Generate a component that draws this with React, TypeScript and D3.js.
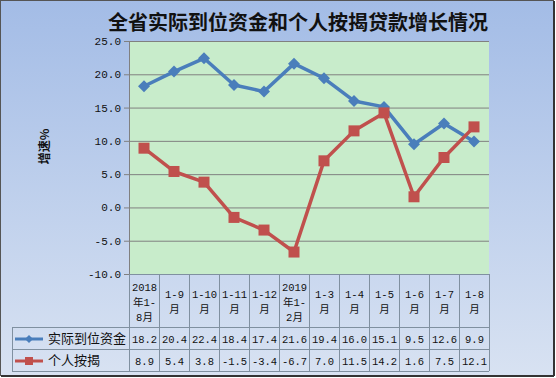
import React from "react";
import * as d3 from "d3";

const categories: string[][] = [
  ["2018", "年1-", "8月"],
  ["1-9", "月"],
  ["1-10", "月"],
  ["1-11", "月"],
  ["1-12", "月"],
  ["2019", "年1-", "2月"],
  ["1-3", "月"],
  ["1-4", "月"],
  ["1-5", "月"],
  ["1-6", "月"],
  ["1-7", "月"],
  ["1-8", "月"],
];
const fundValues = [18.2, 20.4, 22.4, 18.4, 17.4, 21.6, 19.4, 16.0, 15.1, 9.5, 12.6, 9.9];
const mortgageValues = [8.9, 5.4, 3.8, -1.5, -3.4, -6.7, 7.0, 11.5, 14.2, 1.6, 7.5, 12.1];
const yTicks = [-10, -5, 0, 5, 10, 15, 20, 25];
const seriesNames = ["实际到位资金", "个人按揭"];

const W = 556, H = 378;
const PL = 129, PR = 489, PT = 41, PB = 274;
const BLUE = "#4a7ebb", RED = "#c0504d";
const MONO = "'Liberation Mono', 'Noto Sans CJK SC', monospace";
const CJK = "'Noto Sans CJK SC', sans-serif";

export default function App() {
  const x = d3.scaleBand<number>().domain(d3.range(categories.length)).range([PL, PR]);
  const y = d3.scaleLinear().domain([-10, 25]).range([PB, PT]);
  const cx = (i: number) => (x(i) as number) + x.bandwidth() / 2;
  const line = d3.line<number>().x((_, i) => cx(i)).y((v) => y(v));
  const rowTop = [PB, 327, 349, 371];
  const series = [
    { name: seriesNames[0], values: fundValues, color: BLUE, shape: "diamond" },
    { name: seriesNames[1], values: mortgageValues, color: RED, shape: "square" },
  ];
  const marker = (shape: string, px: number, py: number, color: string, s: number, key: any) =>
    shape === "diamond" ? (
      <path key={key} d={`M${px},${py - s}L${px + s},${py}L${px},${py + s}L${px - s},${py}Z`} fill={color} />
    ) : (
      <rect key={key} x={px - s} y={py - s} width={2 * s} height={2 * s} fill={color} />
    );
  return (
    <svg width={W} height={H} style={{ position: "absolute", left: 0, top: 0 }}>
      <defs>
        <linearGradient id="bg" x1="0" y1="0" x2="0" y2="1">
          <stop offset="0" stopColor="#a3bce6" />
          <stop offset="1" stopColor="#d8e2f2" />
        </linearGradient>
      </defs>
      <rect x={0.5} y={0.5} width={W - 3} height={H - 3} fill="url(#bg)" stroke="#555" strokeWidth={1} />
      <line x1={1} y1={H - 2} x2={W - 2} y2={H - 2} stroke="#333" strokeWidth={2} />
      <line x1={W - 2} y1={1} x2={W - 2} y2={H - 2} stroke="#333" strokeWidth={2} />
      <text x={298} y={30} textAnchor="middle" fontFamily={CJK} fontWeight="bold" fontSize={20} fill="#111">
        全省实际到位资金和个人按揭贷款增长情况
      </text>
      <rect x={PL} y={PT} width={PR - PL} height={PB - PT} fill="#c8eccb" />
      {yTicks.map((t) => (
        <g key={t}>
          <line x1={PL} x2={PR} y1={y(t) + 0.5} y2={y(t) + 0.5} stroke="#808080" strokeWidth={1} />
          <line x1={PL - 5} x2={PL} y1={y(t) + 0.5} y2={y(t) + 0.5} stroke="#808080" strokeWidth={1} />
          <text x={121} y={y(t) + 4} textAnchor="end" fontFamily={MONO} fontSize={11} fill="#111">
            {t.toFixed(1)}
          </text>
        </g>
      ))}
      <line x1={PL + 0.5} x2={PL + 0.5} y1={PT} y2={PB} stroke="#808080" />
      <text transform={`translate(49,${(PT + PB) / 2 - 11}) rotate(-90)`} textAnchor="middle" fontFamily={CJK} fontWeight="bold" fontSize={12} fill="#111">
        增速%
      </text>
      {series.map((s) => (
        <g key={s.name}>
          <path d={line(s.values) || ""} fill="none" stroke={s.color} strokeWidth={3.5} strokeLinejoin="round" />
          {s.values.map((v, i) => marker(s.shape, cx(i), y(v), s.color, s.shape === "diamond" ? 6 : 5.5, i))}
        </g>
      ))}
      {/* table */}
      <g stroke="#8090a0" strokeWidth={1} fill="none">
        <line x1={PL} x2={PR} y1={rowTop[0] + 0.5} y2={rowTop[0] + 0.5} />
        <line x1={12} x2={PR} y1={rowTop[1] + 0.5} y2={rowTop[1] + 0.5} />
        <line x1={12} x2={PR} y1={rowTop[2] + 0.5} y2={rowTop[2] + 0.5} />
        <line x1={12} x2={PR} y1={rowTop[3] + 0.5} y2={rowTop[3] + 0.5} />
        <line x1={12.5} x2={12.5} y1={rowTop[1]} y2={rowTop[3]} />
        {d3.range(categories.length + 1).map((i) => {
          const xx = i === categories.length ? PR : (x(i) as number);
          return <line key={i} x1={xx + 0.5} x2={xx + 0.5} y1={rowTop[0]} y2={rowTop[3]} />;
        })}
      </g>
      {categories.map((c, i) => {
        const n = c.length;
        const mid = (rowTop[0] + rowTop[1]) / 2;
        return (
          <text key={i} textAnchor="middle" fill="#111" fontFamily={MONO} fontSize={10.5}>
            {c.map((ln, j) => (
              <tspan key={j} x={cx(i) + 0.5} y={mid + (j - (n - 1) / 2) * 15 + 5}>
                {ln}
              </tspan>
            ))}
          </text>
        );
      })}
      {series.map((s, r) => {
        const mid = (rowTop[r + 1] + rowTop[r + 2]) / 2;
        return (
          <g key={s.name}>
            <line x1={15} x2={43} y1={mid + 1} y2={mid + 1} stroke={s.color} strokeWidth={3} />
            {marker(s.shape, 29, mid + 1, s.color, 4, "m")}
            <text x={48} y={mid + 5} fontFamily={CJK} fontSize={13} fill="#111">
              {s.name}
            </text>
            {s.values.map((v, i) => (
              <text key={i} x={cx(i) + 0.5} y={mid + 5} textAnchor="middle" fontFamily={MONO} fontSize={10.5} fill="#111">
                {v.toFixed(1)}
              </text>
            ))}
          </g>
        );
      })}
    </svg>
  );
}
